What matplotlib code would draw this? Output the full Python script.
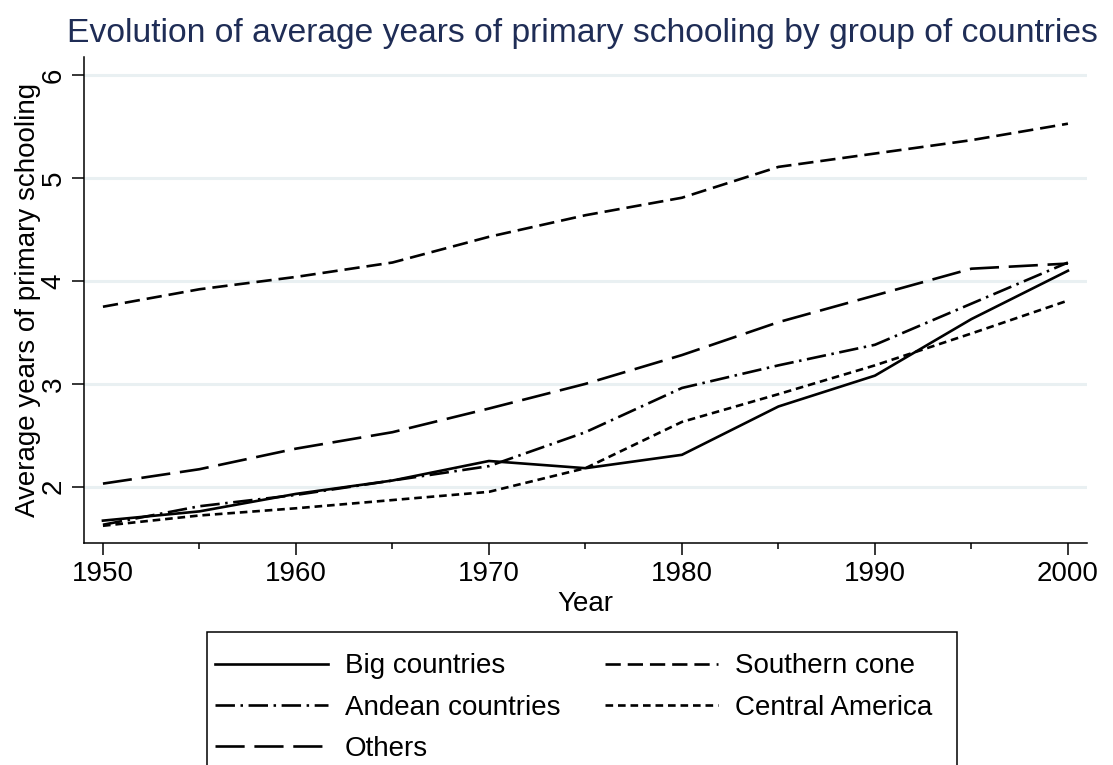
import matplotlib
matplotlib.use("Agg")
import matplotlib.pyplot as plt
from matplotlib.patches import Rectangle
from matplotlib.ticker import MultipleLocator

plt.rcParams['font.family'] = ['Liberation Sans', 'DejaVu Sans']
plt.rcParams['lines.scale_dashes'] = False

#Data
years = [1950, 1955, 1960, 1965, 1970, 1975, 1980, 1985, 1990, 1995, 2000]
big_countries = [1.67, 1.76, 1.93, 2.06, 2.25, 2.18, 2.31, 2.78, 3.08, 3.63, 4.10]
southern_cone = [3.75, 3.92, 4.04, 4.18, 4.43, 4.64, 4.81, 5.11, 5.24, 5.37, 5.53]
andean = [1.63, 1.81, 1.92, 2.06, 2.20, 2.53, 2.96, 3.18, 3.38, 3.78, 4.18]
central_america = [1.62, 1.72, 1.79, 1.87, 1.95, 2.18, 2.63, 2.90, 3.18, 3.49, 3.81]
others = [2.03, 2.17, 2.37, 2.53, 2.76, 3.00, 3.28, 3.60, 3.86, 4.12, 4.17]

fig = plt.figure(figsize=(11.13, 7.65), dpi=100)
ax = fig.add_axes([0.0755, 0.290, 0.901, 0.635])

lw = 1.9
ax.plot(years, big_countries, color='black', lw=lw, label='Big countries')
ax.plot(years, southern_cone, color='black', lw=lw, dashes=(11, 5), label='Southern cone')
ax.plot(years, andean, color='black', lw=lw, dashes=(14, 4, 1.8, 4), label='Andean countries')
ax.plot(years, central_america, color='black', lw=lw, dashes=(5.5, 3.5), label='Central America')
ax.plot(years, others, color='black', lw=lw, dashes=(21, 7), label='Others')

ax.set_xlim(1949.02, 2000.98)
ax.set_ylim(1.451, 6.175)
ax.set_yticks([2, 3, 4, 5, 6])
ax.xaxis.set_major_locator(MultipleLocator(10))
ax.xaxis.set_minor_locator(MultipleLocator(5))
ax.yaxis.grid(True, color='#e9f0f2', lw=2.2)
ax.set_axisbelow(True)

for s in ['top', 'right']:
    ax.spines[s].set_visible(False)
for s in ['left', 'bottom']:
    ax.spines[s].set_linewidth(1.1)

ax.tick_params(axis='both', which='major', length=8.6, width=1.1, labelsize=20, pad=4)
ax.tick_params(axis='x', which='minor', length=4.3, width=1.1)
ax.tick_params(axis='y', labelrotation=90)
for t in ax.get_yticklabels():
    t.set_va('center')

ax.set_xlabel('Year', fontsize=20, labelpad=3)
ax.set_ylabel('Average years of primary schooling', fontsize=20, labelpad=0)
fig.text(0.523, 0.945, 'Evolution of average years of primary schooling by group of countries',
         fontsize=24.2, color='#1f2d56', ha='center', va='baseline')

#legend reads row-wise in the reference, matplotlib fills column-first
h, l = ax.get_legend_handles_labels()
order = [0, 2, 4, 1, 3]
leg = fig.legend([h[i] for i in order], [l[i] for i in order], ncol=2,
                 loc='upper left', bbox_to_anchor=(0.186, 0.156),
                 fontsize=20, frameon=False,
                 handlelength=4.07, handletextpad=0.61, columnspacing=1.6,
                 labelspacing=0.55, borderpad=0.28, borderaxespad=0)

#legend box runs past the bottom edge in the reference
frame = Rectangle((0.186, -0.05), 0.674, 0.224, transform=fig.transFigure,
                  fill=False, edgecolor='black', lw=1.1)
fig.add_artist(frame)

fig.savefig('out.png', dpi=100)
